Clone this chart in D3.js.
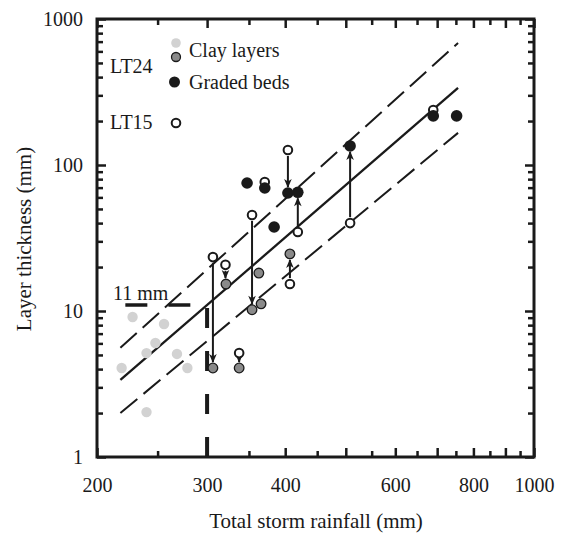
<!DOCTYPE html>
<html>
<head>
<meta charset="utf-8">
<script src="https://cdn.jsdelivr.net/npm/d3@7"></script>
<style>
  body { margin: 0; background: #fff; }
  text { font-family: "Liberation Serif", "DejaVu Serif", serif; fill: #1a1a1a; }
</style>
</head>
<body>
<script>
// tick values
var xMajor = [200, 300, 400, 500, 600, 700, 800, 900, 1000];
var xMinor = [250, 350, 450, 550, 650, 750, 850, 950];
var xLabels = [200, 300, 400, 600, 800, 1000];
var yMajor = [1, 10, 100, 1000];
var yMinor = [2,3,4,5,6,7,8,9, 20,30,40,50,60,70,80,90, 200,300,400,500,600,700,800,900];

// light grey clay layers
var clayX = [219, 228, 240, 248, 256, 268.5, 279, 240];
var clayY = [4.07, 9.1, 5.15, 6.04, 8.15, 5.08, 4.07, 2.03];

// LT24 clay layers (dark grey)
var lt24ClayX = [306.5, 337.6, 321.6, 354, 366, 363, 407];
var lt24ClayY = [4.07, 4.07, 15.3, 10.2, 11.2, 18.2, 24.6];

// LT24 graded beds (black)
var gradedX = [347.6, 371, 404, 419, 384, 508, 690, 752];
var gradedY = [75.3, 69.6, 64.3, 65, 37.6, 135, 217, 217];

// LT15 (open)
var lt15X = [306.5, 321, 337.6, 354, 407, 404, 419, 508, 371, 690];
var lt15Y = [23.4, 20.7, 5.15, 45.5, 15.3, 126.7, 34.8, 40, 76.5, 238];

// arrows LT15 -> LT24
var arrowX = [306.5, 321, 337.6, 354, 407, 404, 419, 508];
var arrowFrom = [23.4, 20.7, 5.15, 45.5, 15.3, 126.7, 34.8, 40];
var arrowTo = [4.07, 15.3, 4.07, 10.2, 24.6, 64.3, 65, 135];

// regression line and bounds (end points)
var fitX = [218, 756];
var fitY = [3.37, 337];
var upperY = [5.6, 685];
var lowerY = [2.0, 166];

// 11 mm threshold
var threshRain = [222, 300];
var threshThick = 11;

var W = 565, H = 533;
var pL = 97, pR = 534, pT = 19, pB = 457;

var svg = d3.select("body").append("svg").attr("width", W).attr("height", H);

var x = d3.scaleLog().domain([200, 1000]).range([pL, pR]);
var y = d3.scaleLog().domain([1, 1000]).range([pB, pT]);

svg.append("defs").append("marker")
  .attr("id", "arr")
  .attr("markerUnits", "userSpaceOnUse")
  .attr("viewBox", "-10 -5 12 10")
  .attr("refX", 0).attr("refY", 0)
  .attr("markerWidth", 12).attr("markerHeight", 10)
  .attr("orient", "auto")
  .append("path")
  .attr("d", "M1,0 L-8,-3.8 L-5.5,0 L-8,3.8 Z")
  .attr("fill", "#1a1a1a");

// axes: ticks point inward on all four sides
function styleAxis(g) {
  g.select(".domain").remove();
  g.attr("font-size", 20).attr("font-family", "Liberation Serif, serif");
  g.selectAll(".tick line").attr("stroke", "#1a1a1a").attr("stroke-width", 2.5);
  g.selectAll("text").attr("fill", "#1a1a1a");
}

svg.append("g").attr("transform", "translate(0," + pB + ")")
  .call(d3.axisBottom(x).tickValues(xMajor).tickSizeInner(-9).tickSizeOuter(0).tickPadding(21)
    .tickFormat(function (d) { return xLabels.indexOf(d) >= 0 ? d : ""; }))
  .call(styleAxis);
svg.append("g").attr("transform", "translate(0," + pB + ")")
  .call(d3.axisBottom(x).tickValues(xMinor).tickSizeInner(-6).tickSizeOuter(0).tickFormat(""))
  .call(styleAxis);
svg.append("g").attr("transform", "translate(0," + pT + ")")
  .call(d3.axisTop(x).tickValues(xMajor).tickSizeInner(-9).tickSizeOuter(0).tickFormat(""))
  .call(styleAxis);
svg.append("g").attr("transform", "translate(0," + pT + ")")
  .call(d3.axisTop(x).tickValues(xMinor).tickSizeInner(-6).tickSizeOuter(0).tickFormat(""))
  .call(styleAxis);

svg.append("g").attr("transform", "translate(" + pL + ",0)")
  .call(d3.axisLeft(y).tickValues(yMajor).tickSizeInner(-9).tickSizeOuter(0).tickPadding(14)
    .tickFormat(d3.format("d")))
  .call(styleAxis);
svg.append("g").attr("transform", "translate(" + pL + ",0)")
  .call(d3.axisLeft(y).tickValues(yMinor).tickSizeInner(-6).tickSizeOuter(0).tickFormat(""))
  .call(styleAxis);
svg.append("g").attr("transform", "translate(" + pR + ",0)")
  .call(d3.axisRight(y).tickValues(yMajor).tickSizeInner(-9).tickSizeOuter(0).tickFormat(""))
  .call(styleAxis);
svg.append("g").attr("transform", "translate(" + pR + ",0)")
  .call(d3.axisRight(y).tickValues(yMinor).tickSizeInner(-6).tickSizeOuter(0).tickFormat(""))
  .call(styleAxis);

svg.append("rect")
  .attr("x", pL).attr("y", pT)
  .attr("width", pR - pL).attr("height", pB - pT)
  .attr("fill", "none").attr("stroke", "#1a1a1a").attr("stroke-width", 3);

// axis titles
svg.append("text")
  .attr("x", 316).attr("y", 528)
  .attr("text-anchor", "middle").attr("font-size", 21)
  .text("Total storm rainfall (mm)");
svg.append("text")
  .attr("transform", "translate(31,239) rotate(-90)")
  .attr("text-anchor", "middle").attr("font-size", 21)
  .text("Layer thickness (mm)");

// regression + bounds
var line = d3.line().x(function (d) { return x(d[0]); }).y(function (d) { return y(d[1]); });
function pts(ys) { return fitX.map(function (v, i) { return [v, ys[i]]; }); }

svg.append("path").attr("d", line(pts(upperY)))
  .attr("fill", "none").attr("stroke", "#1a1a1a").attr("stroke-width", 2)
  .attr("stroke-dasharray", "22,8");
svg.append("path").attr("d", line(pts(lowerY)))
  .attr("fill", "none").attr("stroke", "#1a1a1a").attr("stroke-width", 2)
  .attr("stroke-dasharray", "22,8");
svg.append("path").attr("d", line(pts(fitY)))
  .attr("fill", "none").attr("stroke", "#1a1a1a").attr("stroke-width", 2.3);

// 11 mm threshold lines
svg.append("line")
  .attr("x1", x(threshRain[0])).attr("x2", x(threshRain[1]))
  .attr("y1", y(threshThick)).attr("y2", y(threshThick))
  .attr("stroke", "#1a1a1a").attr("stroke-width", 3.5).attr("stroke-dasharray", "22,21");
svg.append("line")
  .attr("x1", x(threshRain[1])).attr("x2", x(threshRain[1]))
  .attr("y1", y(threshThick) + 3).attr("y2", y(1))
  .attr("stroke", "#1a1a1a").attr("stroke-width", 4).attr("stroke-dasharray", "20,23");
svg.append("text")
  .attr("x", 113).attr("y", 300).attr("font-size", 20)
  .text("11 mm");

// arrows
var r = 5;
svg.selectAll("line.arrow")
  .data(arrowX)
  .enter().append("line")
  .attr("class", "arrow")
  .attr("x1", function (d) { return x(d); })
  .attr("x2", function (d) { return x(d); })
  .attr("y1", function (d, i) {
    var dir = y(arrowTo[i]) > y(arrowFrom[i]) ? 1 : -1;
    return y(arrowFrom[i]) + dir * (r + 1);
  })
  .attr("y2", function (d, i) {
    var dir = y(arrowTo[i]) > y(arrowFrom[i]) ? 1 : -1;
    return y(arrowTo[i]) - dir * (r + 1);
  })
  .attr("stroke", "#1a1a1a").attr("stroke-width", 2)
  .attr("marker-end", "url(#arr)");

// points
svg.selectAll("circle.clay")
  .data(clayX)
  .enter().append("circle")
  .attr("class", "clay")
  .attr("cx", function (d) { return x(d); })
  .attr("cy", function (d, i) { return y(clayY[i]); })
  .attr("r", 5.2).attr("fill", "#d2d2d2");

svg.selectAll("circle.lt15")
  .data(lt15X)
  .enter().append("circle")
  .attr("class", "lt15")
  .attr("cx", function (d) { return x(d); })
  .attr("cy", function (d, i) { return y(lt15Y[i]); })
  .attr("r", 4.3).attr("fill", "#fff").attr("stroke", "#1a1a1a").attr("stroke-width", 2);

svg.selectAll("circle.lt24clay")
  .data(lt24ClayX)
  .enter().append("circle")
  .attr("class", "lt24clay")
  .attr("cx", function (d) { return x(d); })
  .attr("cy", function (d, i) { return y(lt24ClayY[i]); })
  .attr("r", 4.8).attr("fill", "#8a8a8a").attr("stroke", "#1a1a1a").attr("stroke-width", 1.3);

svg.selectAll("circle.graded")
  .data(gradedX)
  .enter().append("circle")
  .attr("class", "graded")
  .attr("cx", function (d) { return x(d); })
  .attr("cy", function (d, i) { return y(gradedY[i]); })
  .attr("r", 5.8).attr("fill", "#1a1a1a");

// legend
var lg = svg.append("g");
lg.append("circle").attr("cx", 176).attr("cy", 43).attr("r", 4.8).attr("fill", "#d2d2d2");
lg.append("circle").attr("cx", 176).attr("cy", 57).attr("r", 4.5)
  .attr("fill", "#8a8a8a").attr("stroke", "#1a1a1a").attr("stroke-width", 1.3);
lg.append("circle").attr("cx", 174.5).attr("cy", 82).attr("r", 5.5).attr("fill", "#1a1a1a");
lg.append("circle").attr("cx", 176).attr("cy", 123).attr("r", 4.3)
  .attr("fill", "#fff").attr("stroke", "#1a1a1a").attr("stroke-width", 2);
lg.append("text").attr("x", 189).attr("y", 56.5).attr("font-size", 20).text("Clay layers");
lg.append("text").attr("x", 189).attr("y", 89).attr("font-size", 20).text("Graded beds");
lg.append("text").attr("x", 110).attr("y", 73).attr("font-size", 20).text("LT24");
lg.append("text").attr("x", 110).attr("y", 128.5).attr("font-size", 20).text("LT15");
</script>
</body>
</html>
